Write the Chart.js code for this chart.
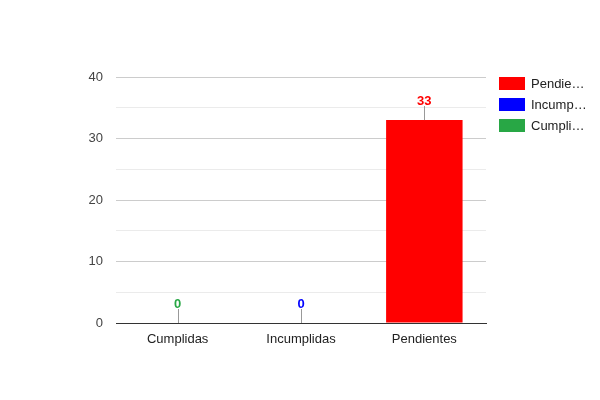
<!DOCTYPE html>
<html>
<head>
<meta charset="utf-8">
<script src="https://cdn.jsdelivr.net/npm/chart.js@4/dist/chart.umd.min.js"></script>
<style>
  html, body { margin: 0; padding: 0; background: #fff; }
  #wrap { width: 600px; height: 400px; }
</style>
</head>
<body>
<div id="wrap"><canvas id="chart" width="600" height="400"></canvas></div>
<script>
// datos
const categorias = ['Cumplidas', 'Incumplidas', 'Pendientes'];
const valores = [0, 0, 33];
const colores = ['#28a745', '#0000ff', '#ff0000'];
const ticksY = [0, 10, 20, 30, 40];
const ordenLeyenda = [2, 1, 0]; // Pendientes, Incumplidas, Cumplidas

const FUENTE = "'Liberation Sans', Arial, sans-serif";

// un dataset por estado, asi la leyenda muestra cada color
const datasets = ordenLeyenda.map(i => ({
  label: categorias[i],
  data: categorias.map((c, j) => (j === i ? valores[i] : null)),
  backgroundColor: colores[i],
  grouped: false,
  categoryPercentage: 1,
  barPercentage: 0.62
}));

function recortar(ctx, texto, maxAncho) {
  if (ctx.measureText(texto).width <= maxAncho) return texto;
  let t = texto;
  while (t.length > 1 && ctx.measureText(t + '…').width > maxAncho) t = t.slice(0, -1);
  return t + '…';
}

const anotaciones = {
  id: 'anotaciones',
  afterDatasetsDraw(chart) {
    const ctx = chart.ctx;
    ctx.save();
    chart.data.datasets.forEach((ds, di) => {
      const meta = chart.getDatasetMeta(di);
      meta.data.forEach((bar, j) => {
        const v = ds.data[j];
        if (v === null || v === undefined) return;
        const x = Math.round(bar.x) + 0.5;
        const y = bar.y;
        ctx.strokeStyle = '#999';
        ctx.lineWidth = 1;
        ctx.beginPath();
        ctx.moveTo(x, y);
        ctx.lineTo(x, y - 14);
        ctx.stroke();
        ctx.fillStyle = ds.backgroundColor;
        ctx.font = 'bold 13px ' + FUENTE;
        ctx.textAlign = 'center';
        ctx.textBaseline = 'alphabetic';
        ctx.fillText(String(v), bar.x, y - 15);
      });
    });
    ctx.restore();
  }
};

const leyenda = {
  id: 'leyenda',
  afterDraw(chart) {
    const ctx = chart.ctx;
    ctx.save();
    ctx.font = '13px ' + FUENTE;
    chart.data.datasets.forEach((ds, i) => {
      const y = 77 + i * 21;
      ctx.fillStyle = ds.backgroundColor;
      ctx.fillRect(499, y, 26, 13);
      ctx.fillStyle = '#222';
      ctx.textAlign = 'left';
      ctx.textBaseline = 'middle';
      ctx.fillText(recortar(ctx, ds.label, 57), 531, y + 7);
    });
    ctx.restore();
  }
};

new Chart(document.getElementById('chart'), {
  type: 'bar',
  data: { labels: categorias, datasets: datasets },
  options: {
    responsive: false,
    animation: false,
    devicePixelRatio: 1,
    layout: { padding: { top: 77, right: 114, left: 0, bottom: 0 } },
    plugins: {
      legend: { display: false },
      tooltip: { enabled: false }
    },
    scales: {
      x: {
        grid: { display: false, drawTicks: false },
        border: { color: '#333', width: 1 },
        ticks: { color: '#222', font: { family: FUENTE, size: 13 }, padding: 9 },
        afterFit(s) { s.height = 77; }
      },
      y: {
        min: ticksY[0],
        max: ticksY[ticksY.length - 1],
        border: { display: false },
        afterFit(s) { s.width = 116; },
        afterBuildTicks(s) {
          const t = [];
          for (let k = 0; k < ticksY.length; k++) {
            t.push({ value: ticksY[k] });
            if (k < ticksY.length - 1) t.push({ value: (ticksY[k] + ticksY[k + 1]) / 2 });
          }
          s.ticks = t;
        },
        grid: {
          drawTicks: false,
          color: c => (c.tick.value === 0 ? '#333' : (ticksY.includes(c.tick.value) ? '#ccc' : '#ebebeb'))
        },
        ticks: {
          color: '#444',
          padding: 13,
          font: { family: FUENTE, size: 13 },
          callback: v => (ticksY.includes(v) ? v : '')
        }
      }
    }
  },
  plugins: [anotaciones, leyenda]
});
</script>
</body>
</html>
